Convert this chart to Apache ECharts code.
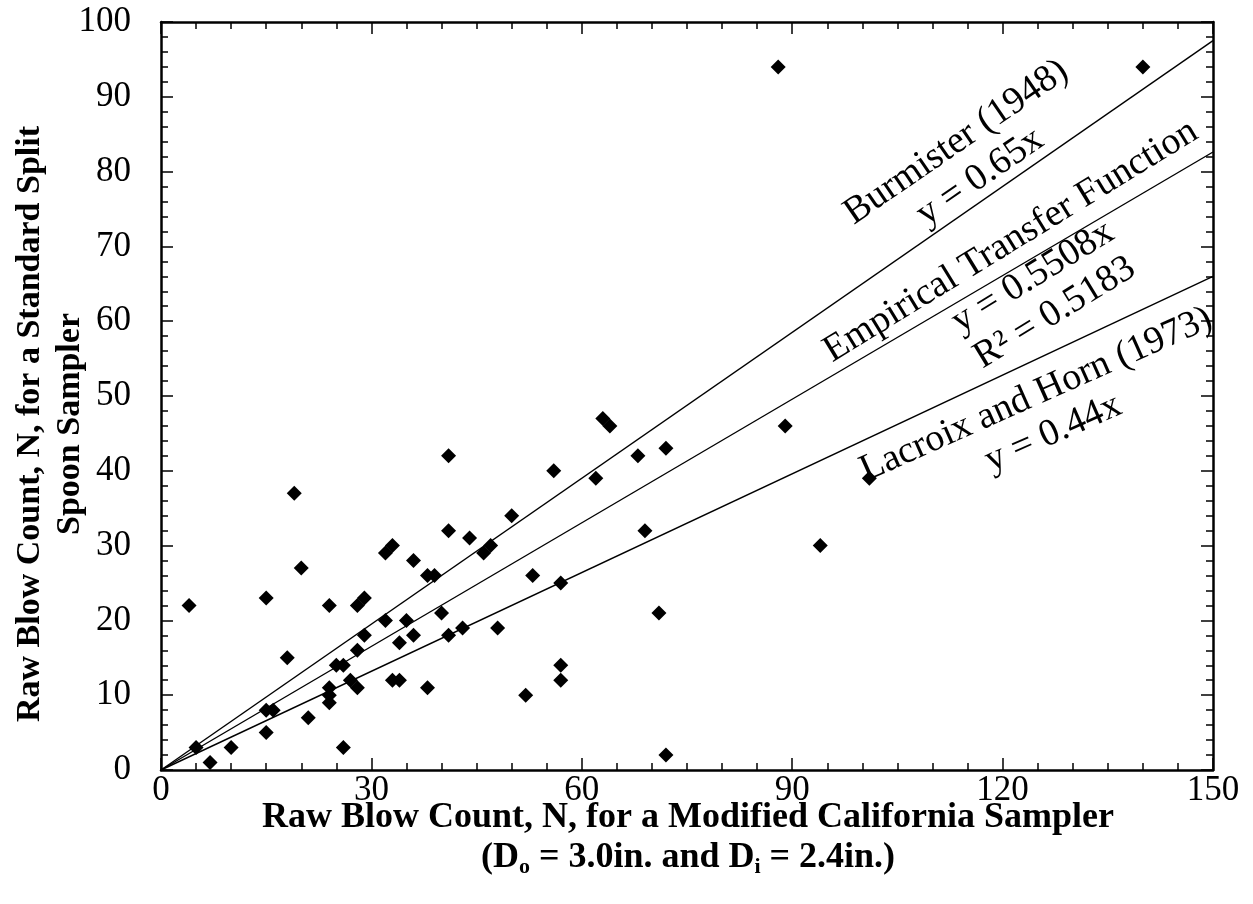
<!DOCTYPE html>
<html>
<head>
<meta charset="utf-8">
<script src="https://cdn.jsdelivr.net/npm/echarts@6/dist/echarts.min.js"></script>
<style>
html,body{margin:0;padding:0;background:#fff;}
#chart{width:1253px;height:904px;}
</style>
</head>
<body>
<div id="chart"></div>
<script>
// Raw blow count, Modified California sampler (x)
var mcBlows = [4,5,7,10,15,15,16,15,18,19,20,21,24,24,24,24,25,26,26,27,28,28,28,29,29,32,32,33,33,34,34,35,36,36,38,39,38,40,41,41,41,43,44,46,47,48,50,52,53,56,57,57,57,62,63,64,68,69,71,72,72,88,89,94,101,140];
// Raw blow count, standard split spoon sampler (y)
var sptBlows = [22,3,1,3,23,8,8,5,15,37,27,7,22,11,10,9,14,14,3,12,11,16,22,23,18,20,29,30,12,12,17,20,18,28,26,26,11,21,32,42,18,19,31,29,30,19,34,10,26,40,25,14,12,39,47,46,42,32,21,43,2,94,46,30,39,94];
// Reference lines (endpoints)
var burmisterLine = [[0,0],[150,97.5]];
var empiricalLine = [[0,0],[150,82.62]];
var lacroixLine = [[0,0],[150,66]];
var xTicks = [0,30,60,90,120,150];
var yTicks = [0,10,20,30,40,50,60,70,80,90,100];

var FONT = "'Liberation Serif','Times New Roman',serif";
var points = mcBlows.map(function(x,i){return [x, sptBlows[i]];});

var chart = echarts.init(document.getElementById('chart'), null, {renderer:'canvas'});

function xAx(pos, showLabel){
  return {
    type:'value', position:pos, min:xTicks[0], max:xTicks[xTicks.length-1], interval:30,
    axisLine:{show:true, onZero:false, lineStyle:{color:'#000', width:2.5}},
    axisTick:{show:true, inside:true, length:12, lineStyle:{color:'#000', width:1.5}},
    minorTick:{show:true, splitNumber:6, length:7, lineStyle:{color:'#000', width:1.5}},
    splitLine:{show:false},
    axisLabel:{show:showLabel, margin:3, color:'#000', fontFamily:FONT, fontSize:35}
  };
}
function yAx(pos, showLabel){
  return {
    type:'value', position:pos, min:yTicks[0], max:yTicks[yTicks.length-1], interval:10,
    axisLine:{show:true, onZero:false, lineStyle:{color:'#000', width:2.5}},
    axisTick:{show:true, inside:true, length:12, lineStyle:{color:'#000', width:1.5}},
    minorTick:{show:true, splitNumber:5, length:7, lineStyle:{color:'#000', width:1.5}},
    splitLine:{show:false},
    axisLabel:{show:showLabel, margin:30, color:'#000', fontFamily:FONT, fontSize:35}
  };
}

var annLabel = function(rot){
  return {show:true, position:'inside', rotate:rot, color:'#000', fontFamily:FONT, fontSize:38, lineHeight:42, align:'center', verticalAlign:'middle'};
};

var option = {
  backgroundColor:'#fff',
  animation:false,
  grid:{left:161, right:40, top:22, bottom:134, containLabel:false},
  xAxis:[xAx('bottom', true), xAx('top', false)],
  yAxis:[yAx('left', true), yAx('right', false)],
  series:[
    {type:'line', data:burmisterLine, showSymbol:false, symbol:'none', lineStyle:{color:'#000', width:1.4}, z:2,
     markPoint:{symbol:'circle', symbolSize:0, data:[{coord:[115.1,81.6], value:'', label:Object.assign(annLabel(34.5),{formatter:'Burmister (1948)\ny = 0.65x'})}]}},
    {type:'line', data:empiricalLine, showSymbol:false, symbol:'none', lineStyle:{color:'#000', width:1.4}, z:2,
     markPoint:{symbol:'circle', symbolSize:0, data:[{coord:[124.3,65.9], value:'', label:Object.assign(annLabel(31.5),{formatter:'Empirical Transfer Function\ny = 0.5508x\nR\u00B2 = 0.5183'})}]}},
    {type:'line', data:lacroixLine, showSymbol:false, symbol:'none', lineStyle:{color:'#000', width:1.4}, z:2,
     markPoint:{symbol:'circle', symbolSize:0, data:[{coord:[126.0,47.6], value:'', label:Object.assign(annLabel(24),{formatter:'Lacroix and Horn (1973)\ny = 0.44x'})}]}},
    {type:'scatter', data:points, symbol:'diamond', symbolSize:15, itemStyle:{color:'#000', opacity:1}, z:3}
  ],
  graphic:[
    {type:'text', x:50, y:424, rotation:Math.PI/2, z:10,
     style:{text:'Raw Blow Count, N, for a Standard Split\nSpoon Sampler', fill:'#000', font:'bold 34px '+FONT, lineHeight:40, align:'center', verticalAlign:'middle'}},
    {type:'text', x:688, y:798, z:10,
     style:{text:'{a|Raw Blow Count, N, for a Modified California Sampler}\n{a|(D}{s|o}{a| = 3.0in. and D}{s|i}{a| = 2.4in.)}', align:'center', verticalAlign:'top', fill:'#000',
       rich:{a:{fontFamily:FONT, fontWeight:'bold', fontSize:36, lineHeight:40, fill:'#000'},
             s:{fontFamily:FONT, fontWeight:'bold', fontSize:22, lineHeight:16, verticalAlign:'bottom', fill:'#000'}}}}
  ]
};
chart.setOption(option);
</script>
</body>
</html>
